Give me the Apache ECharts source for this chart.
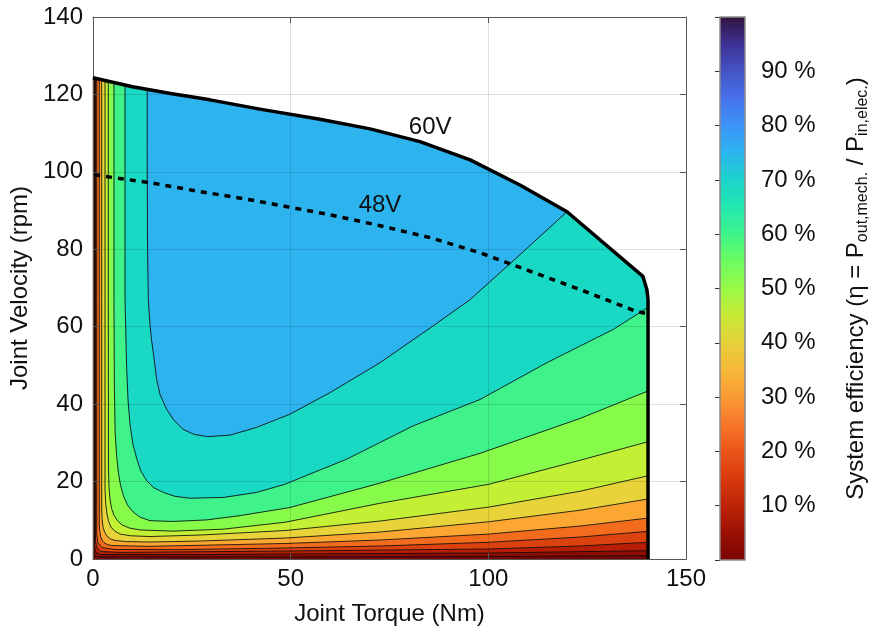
<!DOCTYPE html>
<html><head><meta charset="utf-8">
<script src="https://cdn.jsdelivr.net/npm/echarts@6/dist/echarts.min.js"></script>
<style>html,body{margin:0;padding:0;background:#fff}#c{width:872px;height:631px}</style>
</head><body><div id="c"></div>
<script>
// ---------- data (torque Nm, velocity rpm) ----------
const X_RANGE = [0, 150, 50];
const Y_RANGE = [0, 140, 20];
const ENVELOPE_60V = [[0,124.3],[10,122.0],[20,120.2],[29.6,118.6],[42.2,116.2],[57.4,113.6],[70.1,111.1],[82.7,107.8],[95.4,103.1],[108.0,96.6],[119.9,89.7],[139.1,73.0],[140.1,69.6],[140.4,67.0],[140.4,0]];
const CURVE_48V = [[0.3,99.3],[1.8,99.0],[14.4,97.2],[27.1,94.9],[39.7,92.8],[49.1,91.0],[60.0,88.9],[72.6,86.1],[85.3,83.0],[97.9,79.1],[108.0,75.3],[123.2,69.6],[137.6,63.9],[140.4,63.3]];
const C1  = [[13.7,121.1],[13.7,105.7],[13.8,79.9],[14.0,67.0],[14.4,60.6],[14.8,56.7],[15.3,52.9],[16.1,46.4],[16.95,42.5],[18.6,38.7],[20.5,35.8],[22.8,33.5],[25.5,32.2],[29.0,31.6],[34.7,32.0],[41.4,34.0],[49.8,37.4],[60.0,43.0],[72.6,50.7],[85.3,59.7],[95.4,67.0],[108.0,78.6],[119.9,89.7]];
const C2  = [[8.1,122.4],[8.1,105.7],[8.1,67.0],[8.5,49.8],[8.85,41.2],[9.4,34.4],[10.1,29.6],[11.1,25.8],[12.1,22.7],[13.6,20.2],[15.4,18.4],[17.8,17.2],[20.7,16.2],[24.5,15.7],[33.0,15.9],[41.4,17.2],[48.5,19.3],[64.2,25.8],[81.0,34.4],[97.9,41.2],[114.8,50.7],[131.6,59.3],[140.4,65.0]];
const C3  = [[5.3,123.1],[5.3,67.0],[5.4,45.0],[5.6,32.7],[5.95,27.1],[6.4,22.4],[6.96,19.1],[7.7,16.3],[8.73,13.9],[10.2,12.1],[11.9,10.8],[14.4,9.9],[20.3,9.7],[28.8,10.1],[37.2,11.2],[49.8,13.3],[72.6,19.6],[97.9,27.3],[123.2,36.3],[140.4,43.4]];
const C4  = [[3.87,123.4],[3.87,67.0],[3.92,23.2],[4.05,18.5],[4.3,15.5],[4.7,13.0],[5.31,11.3],[6.2,9.9],[7.34,8.8],[9.2,8.0],[11.9,7.5],[20.2,7.2],[32.9,7.7],[48.6,9.5],[72.6,14.4],[100.1,19.3],[123.2,25.5],[140.4,30.3]];
const C5  = [[3.04,123.6],[3.04,67.0],[3.04,18.0],[3.2,14.5],[3.54,11.6],[3.95,9.7],[4.55,8.25],[5.5,7.2],[6.83,6.44],[9.5,6.0],[14.4,5.8],[27.1,6.19],[48.6,7.35],[72.6,9.8],[100.1,13.4],[123.2,17.5],[140.4,21.5]];
const C6  = [[2.2,123.8],[2.2,67.0],[2.2,12.9],[2.3,10.3],[2.53,8.25],[2.95,6.9],[3.54,5.93],[4.4,5.2],[5.57,4.77],[8.5,4.5],[14.4,4.38],[27.1,4.64],[48.6,5.41],[72.6,6.96],[100.1,9.62],[123.2,12.6],[140.4,15.5]];
const C7  = [[1.59,123.9],[1.59,67.0],[1.59,9.02],[1.7,7.3],[1.9,5.93],[2.25,4.9],[2.78,4.25],[3.6,3.75],[4.81,3.48],[14.4,3.27],[48.6,4.0],[72.6,4.9],[100.1,6.44],[123.2,8.51],[140.4,10.57]];
const C8  = [[0.94,124.1],[0.94,67.0],[0.94,6.44],[1.26,4.12],[2.28,2.96],[5.57,2.45],[22.0,2.42],[48.6,2.84],[72.6,3.35],[100.1,4.31],[123.2,5.67],[140.4,7.14]];
const C9  = [[0.63,124.15],[0.63,67.0],[0.63,4.64],[1.01,2.84],[2.02,1.93],[6.83,1.7],[48.6,2.06],[100.1,2.58],[123.2,3.35],[140.4,4.31]];
const C10 = [[0.4,124.2],[0.4,67.0],[0.4,3.09],[0.76,1.68],[2.02,1.16],[27.1,1.13],[48.6,1.29],[100.1,1.55],[140.4,2.14]];
const C11 = [[0.23,124.25],[0.23,67.0],[0.23,1.8],[0.51,0.77],[1.77,0.52],[48.6,0.52],[100.1,0.64],[140.4,0.85]];
const CONTOURS = [C1,C2,C3,C4,C5,C6,C7,C8,C9,C10,C11];
const BAND_COLORS = ['#2db3ee','#19d9c4','#3ff28a','#87fb4a','#c3f034','#e8d43a','#fca731','#f36b1d','#dc420f','#b81e05','#8f0c02','#7a0403'];
const VOLT_LABELS = [{name:'60V', value:[85.3,111.6]},{name:'48V', value:[72.6,91.3]}];
const CB_RANGE = [0, 100, 10];
const CB_STOPS = [[0,'#7a0403'],[5,'#9a1002'],[10,'#bd2306'],[15,'#d83a0e'],[20,'#ea5418'],[25,'#f7762a'],[30,'#fa9a33'],[35,'#f6b83a'],[40,'#e6d03a'],[45,'#c8e834'],[50,'#98fa48'],[55,'#6cfc60'],[60,'#3ef48a'],[65,'#22e8b0'],[70,'#1cd3cc'],[75,'#2bb5ee'],[80,'#3d93f8'],[85,'#4672ec'],[90,'#4553c4'],[95,'#3d3294'],[100,'#30123b']];

// ---------- helpers ----------
function regionPolygon(line) {
  const start = line[0], end = line[line.length - 1];
  const onRight = end[0] >= 140;
  const between = ENVELOPE_60V.filter(p => p[0] > start[0] + 1e-6 &&
    (onRight ? p[1] > end[1] + 1e-6 : p[0] < end[0] - 1e-6));
  return line.concat(between.slice().reverse());
}
const BASE_POLY = ENVELOPE_60V.concat([[0,0]]);

function renderContours(params, api) {
  const pts = arr => arr.map(p => api.coord(p));
  const children = [];
  children.push({type:'polygon', shape:{points: pts(BASE_POLY)}, style:{fill: BAND_COLORS[CONTOURS.length], stroke: BAND_COLORS[CONTOURS.length], lineWidth: 0.5}});
  for (let k = CONTOURS.length - 1; k >= 0; k--) {
    children.push({type:'polygon', shape:{points: pts(regionPolygon(CONTOURS[k]))}, style:{fill: BAND_COLORS[k], stroke: BAND_COLORS[k], lineWidth: 0.5}});
  }
  CONTOURS.forEach(c => children.push({type:'polyline', shape:{points: pts(c)}, style:{stroke:'rgba(10,10,10,0.85)', lineWidth:1, lineJoin:'round', fill:null}}));
  return {type:'group', children};
}
function renderBoundaries(params, api) {
  const pts = arr => arr.map(p => api.coord(p));
  const children = [
    {type:'polyline', shape:{points: pts(CURVE_48V)}, style:{stroke:'#000', lineWidth:3.5, lineDash:[6,6], fill:null}},
    {type:'polyline', shape:{points: pts(ENVELOPE_60V)}, style:{stroke:'#000', lineWidth:3.5, lineJoin:'round', fill:null}}
  ];
  VOLT_LABELS.forEach(l => {
    const p = api.coord(l.value);
    children.push({type:'text', x:p[0], y:p[1], style:{text:l.name, fill:'#111', fontSize:24, fontFamily:FONT, align:'center', verticalAlign:'middle'}});
  });
  return {type:'group', children};
}
function renderColorbar(params, api) {
  const p0 = api.coord([0, CB_RANGE[1]]), p1 = api.coord([1, CB_RANGE[0]]);
  const span = CB_RANGE[1] - CB_RANGE[0];
  const stops = CB_STOPS.map(([v, c]) => ({offset: 1 - (v - CB_RANGE[0]) / span, color: c})).reverse();
  return {type:'rect', shape:{x:p0[0], y:p0[1], width:p1[0]-p0[0], height:p1[1]-p0[1]},
    style:{fill: new echarts.graphic.LinearGradient(0,0,0,1, stops), stroke:'#8a8a8a', lineWidth:1.5}};
}

const FONT = "'Liberation Sans', Arial, Helvetica, sans-serif";
const AX = '#555';
const TXT = '#111';
const chart = echarts.init(document.getElementById('c'), null, {renderer:'canvas'});
chart.setOption({
  animation: false,
  textStyle: {fontFamily: FONT},
  grid: [
    {left:93, top:17, width:593, height:543},
    {left:720, top:17, width:33, height:543}
  ],
  xAxis: [
    {type:'value', gridIndex:0, min:X_RANGE[0], max:X_RANGE[1], interval:X_RANGE[2], position:'bottom',
     axisLine:{show:true, onZero:false, lineStyle:{color:AX}}, axisTick:{inside:true, length:6, lineStyle:{color:AX}},
     axisLabel:{fontSize:24, color:TXT, margin:8, fontFamily:FONT},
     splitLine:{show:true, lineStyle:{color:'rgba(0,0,0,0.12)'}},
     name:'Joint Torque (Nm)', nameLocation:'middle', nameGap:43, nameTextStyle:{fontSize:24, color:TXT, fontFamily:FONT}},
    {type:'value', gridIndex:0, min:X_RANGE[0], max:X_RANGE[1], interval:X_RANGE[2], position:'top',
     axisLine:{show:true, onZero:false, lineStyle:{color:AX}}, axisTick:{inside:true, length:6, lineStyle:{color:AX}},
     axisLabel:{show:false}, splitLine:{show:false}},
    {type:'value', gridIndex:1, min:0, max:1, show:false}
  ],
  yAxis: [
    {type:'value', gridIndex:0, min:Y_RANGE[0], max:Y_RANGE[1], interval:Y_RANGE[2], position:'left',
     axisLine:{show:true, onZero:false, lineStyle:{color:AX}}, axisTick:{inside:true, length:6, lineStyle:{color:AX}},
     axisLabel:{fontSize:24, color:TXT, margin:10, fontFamily:FONT},
     splitLine:{show:true, lineStyle:{color:'rgba(0,0,0,0.12)'}},
     name:'Joint Velocity (rpm)', nameLocation:'middle', nameGap:47, nameRotate:90, nameTextStyle:{fontSize:24, color:TXT, fontFamily:FONT}},
    {type:'value', gridIndex:0, min:Y_RANGE[0], max:Y_RANGE[1], interval:Y_RANGE[2], position:'right',
     axisLine:{show:true, onZero:false, lineStyle:{color:AX}}, axisTick:{inside:true, length:6, lineStyle:{color:AX}},
     axisLabel:{show:false}, splitLine:{show:false}},
    {type:'value', gridIndex:1, min:CB_RANGE[0], max:CB_RANGE[1], interval:CB_RANGE[2], position:'right',
     axisLine:{show:false}, axisTick:{show:true, inside:true, length:5, lineStyle:{color:'#333'}},
     splitLine:{show:false},
     axisLabel:{fontSize:24, color:TXT, margin:16, fontFamily:FONT,
       formatter: v => (v > CB_RANGE[0] && v < CB_RANGE[1]) ? v + ' %' : ''},
     name:'{n|System efficiency (η = P}{s|out,mech.}{n| / P}{s|in,elec.}{n|)}',
     nameLocation:'middle', nameRotate:90, nameGap:96,
     nameTextStyle:{fontFamily:FONT, color:TXT, rich:{
       n:{fontSize:24, fontFamily:FONT, color:TXT, lineHeight:30, verticalAlign:'middle'},
       s:{fontSize:16, fontFamily:FONT, color:TXT, lineHeight:14, verticalAlign:'bottom'}}}}
  ],
  series: [
    {type:'custom', xAxisIndex:0, yAxisIndex:0, z:-1, silent:true, renderItem: renderContours, data:[[0,0]]},
    {type:'custom', xAxisIndex:0, yAxisIndex:0, z:3, silent:true, renderItem: renderBoundaries, data:[[0,0]]},
    {type:'custom', xAxisIndex:2, yAxisIndex:2, silent:true, renderItem: renderColorbar, data:[[0,0]]}
  ]
});
</script></body></html>
